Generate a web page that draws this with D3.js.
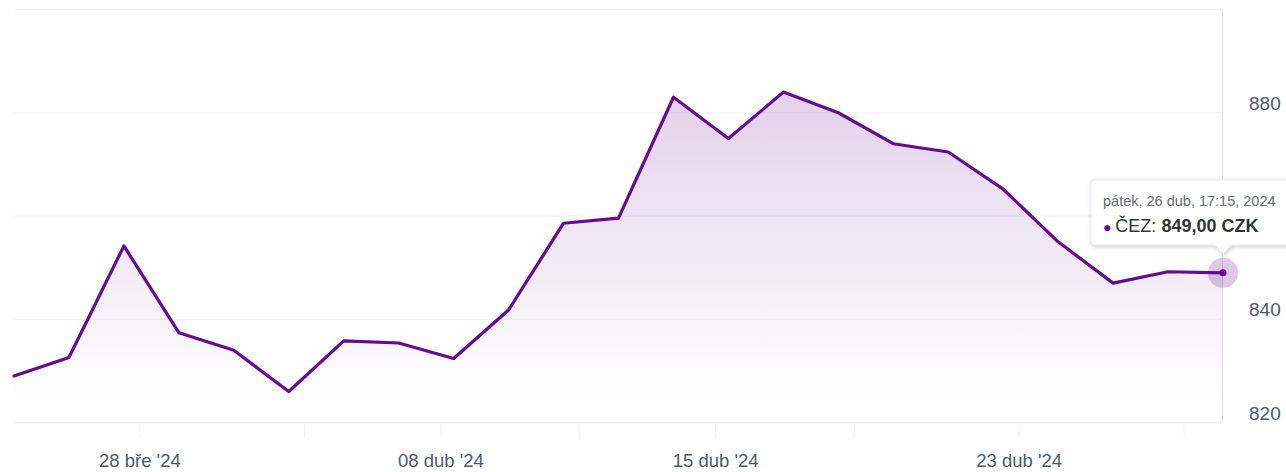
<!DOCTYPE html>
<html>
<head>
<meta charset="utf-8">
<script src="https://cdn.jsdelivr.net/npm/d3@7"></script>
<style>
  html, body { margin: 0; padding: 0; background: #ffffff; }
  svg { display: block; font-family: "Liberation Sans", Arial, Helvetica, sans-serif; }
</style>
</head>
<body>
<svg id="chart" width="1286" height="472"></svg>
<script>
// ---- data ----
const dates = ["2024-03-25","2024-03-26","2024-03-27","2024-03-28","2024-04-02","2024-04-03",
  "2024-04-04","2024-04-05","2024-04-08","2024-04-09","2024-04-10","2024-04-11","2024-04-12",
  "2024-04-15","2024-04-16","2024-04-17","2024-04-18","2024-04-19","2024-04-22","2024-04-23",
  "2024-04-24","2024-04-25","2024-04-26"];
const closes = [829.0, 832.6, 854.2, 837.4, 834.0, 826.0, 835.8, 835.4, 832.4, 841.8, 858.6,
  859.6, 883.0, 875.0, 884.0, 880.0, 874.0, 872.4, 865.2, 855.0, 847.0, 849.2, 849.0];
// the 860 label sits under the tooltip in the reference, so only these are shown
const yTickValues = [820, 840, 880];
const yGridValues = [820, 840, 860, 880, 900];
const xTickDates = ["2024-03-28","2024-04-04","2024-04-08","2024-04-11","2024-04-15","2024-04-18","2024-04-23","2024-04-26"];
const xTickLabels = ["28 bře '24","","08 dub '24","","15 dub '24","","23 dub '24",""];
const seriesName = "ČEZ";
const tooltipHeader = "pátek, 26 dub, 17:15, 2024";
const tooltipValue = "849,00 CZK";

// ---- layout ----
const color = "#660a8f";
const plotL = 14, plotR = 1222, plotT = 9.5, plotB = 422.5;
const svg = d3.select("#chart");

// trading-session timestamps (17:15) -> ordinal index
const stamp = d => { const [Y,M,D] = d.split("-").map(Number); return Date.UTC(Y, M-1, D, 17, 15); };
const times = dates.map(stamp);
const midnight = d => { const [Y,M,D] = d.split("-").map(Number); return Date.UTC(Y, M-1, D, 0, 0); };
function ordinalIndex(t) {
  for (let i = 0; i < times.length - 1; i++) {
    if (t >= times[i] && t <= times[i+1]) return i + (t - times[i]) / (times[i+1] - times[i]);
  }
  return t < times[0] ? 0 : times.length - 1;
}

const x = d3.scaleLinear().domain([0, dates.length - 1]).range([plotL, plotR + 1]);
const y = d3.scaleLinear().domain([820, 900]).range([plotB, plotT]);

const data = closes.map((v, i) => ({ i, v }));

// gradient
const defs = svg.append("defs");
const grad = defs.append("linearGradient").attr("id", "areaGrad")
  .attr("gradientUnits", "userSpaceOnUse").attr("x1", 0).attr("x2", 0)
  .attr("y1", plotT).attr("y2", plotB - 22);
grad.append("stop").attr("offset", 0).attr("stop-color", color).attr("stop-opacity", 0.24);
grad.append("stop").attr("offset", 1).attr("stop-color", color).attr("stop-opacity", 0);

const shadow = defs.append("filter").attr("id", "shadow").attr("x", -0.2).attr("y", -0.3).attr("width", 1.4).attr("height", 1.8);
shadow.append("feDropShadow").attr("dx", 1).attr("dy", 1).attr("stdDeviation", 2)
  .attr("flood-color", "#000").attr("flood-opacity", 0.25);

// gridlines
svg.append("g").selectAll("line").data(yGridValues).join("line")
  .attr("x1", plotL).attr("x2", plotR)
  .attr("y1", d => y(d)).attr("y2", d => y(d))
  .attr("stroke", "#eef0f6").attr("stroke-width", 1);

// right border
svg.append("line").attr("x1", plotR + 0.5).attr("x2", plotR + 0.5)
  .attr("y1", plotT).attr("y2", plotB)
  .attr("stroke", "#e3e3e6").attr("stroke-width", 1);

// area + line
svg.append("path").datum(data)
  .attr("fill", "url(#areaGrad)")
  .attr("d", d3.area().x(d => x(d.i)).y0(plotB).y1(d => y(d.v)));
svg.append("path").datum(data)
  .attr("fill", "none").attr("stroke", color).attr("stroke-width", 3.2)
  .attr("stroke-linejoin", "round").attr("stroke-linecap", "round")
  .attr("d", d3.line().x(d => x(d.i)).y(d => y(d.v)));

// x axis
const xTickPos = xTickDates.map(d => ordinalIndex(midnight(d)));
const xAxis = d3.axisBottom(x).tickValues(xTickPos)
  .tickFormat((d, k) => xTickLabels[k]).tickSize(15).tickSizeOuter(0).tickPadding(16);
const gx = svg.append("g").attr("transform", `translate(0,${plotB})`).call(xAxis);
gx.select(".domain").attr("stroke", "#eef0f6").attr("d", `M${plotL},0.5H${plotR}`);
gx.selectAll(".tick line").attr("stroke", "#eef0f6");
gx.selectAll(".tick text").attr("fill", "#4d596b").attr("font-size", 18.5)
  .attr("font-family", "'Liberation Sans', Arial, sans-serif");

// y axis (labels only)
const yAxis = d3.axisRight(y).tickValues(yTickValues).tickFormat(d3.format("d"))
  .tickSize(0).tickPadding(0);
const gy = svg.append("g").attr("transform", `translate(${plotR + 27},0)`).call(yAxis);
gy.select(".domain").remove();
gy.selectAll(".tick text").attr("fill", "#4d596b").attr("font-size", 19)
  .attr("font-family", "'Liberation Sans', Arial, sans-serif")
  .attr("dy", "-0.18em");

// hovered point
const last = data[data.length - 1];
svg.append("circle").attr("cx", x(last.i)).attr("cy", y(last.v)).attr("r", 15)
  .attr("fill", color).attr("fill-opacity", 0.22);
svg.append("circle").attr("cx", x(last.i)).attr("cy", y(last.v)).attr("r", 3.5)
  .attr("fill", color);

// tooltip
const px = x(last.i);
const bx = 1091, by = 180, bw = 205, bh = 65;
const tip = svg.append("g");
tip.append("path")
  .attr("d", `M${bx + 3},${by} H${bx + bw} V${by + bh} H${px + 8} L${px},${by + bh + 9} L${px - 8},${by + bh} H${bx + 3} Q${bx},${by + bh} ${bx},${by + bh - 3} V${by + 3} Q${bx},${by} ${bx + 3},${by} Z`)
  .attr("fill", "#ffffff").attr("stroke", "#e8e8ea").attr("stroke-width", 1)
  .attr("filter", "url(#shadow)");
tip.append("text").attr("x", 1103).attr("y", 206)
  .attr("font-size", 14.5).attr("fill", "#666b73").text(tooltipHeader);
const t2 = tip.append("text").attr("x", 1103).attr("y", 232).attr("font-size", 18).attr("fill", "#333");
t2.append("tspan").attr("fill", color).attr("font-size", 14).text("● ");
t2.append("tspan").text(seriesName + ": ");
t2.append("tspan").attr("font-weight", "bold").text(tooltipValue);
</script>
</body>
</html>
